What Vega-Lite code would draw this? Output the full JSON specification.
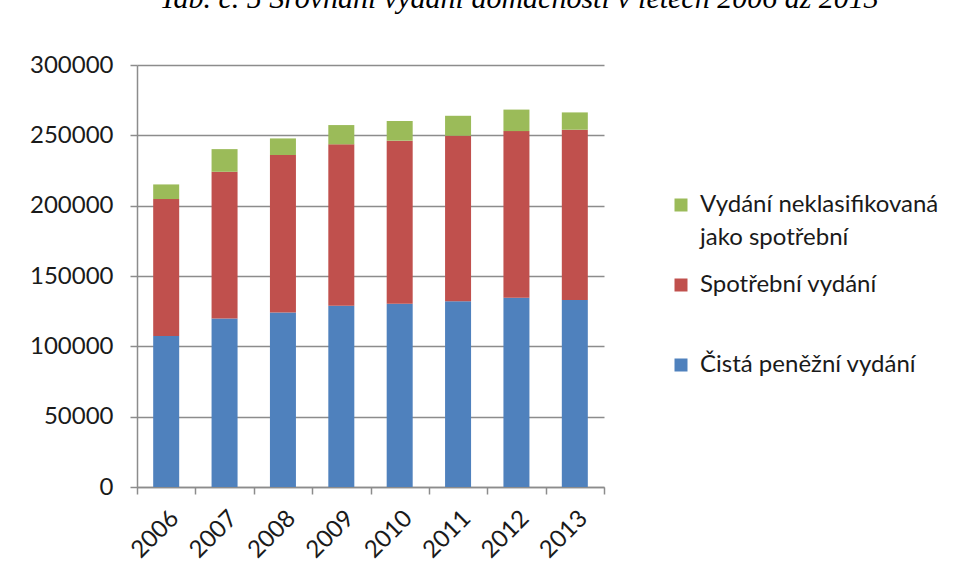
{
  "$schema": "https://vega.github.io/schema/vega-lite/v6.json",
  "width": 467,
  "height": 422,
  "autosize": {"type": "none"},
  "padding": {"left": 137, "top": 65, "right": 353, "bottom": 94},
  "background": "white",
  "title": {
    "text": "Tab. č.  5 Srovnání vydání domácností v letech 2006 až 2013",
    "font": "Liberation Serif",
    "fontStyle": "italic",
    "fontWeight": "normal",
    "fontSize": 30,
    "color": "#000000",
    "anchor": "start",
    "dx": 130,
    "offset": 39
  },
  "data": {
    "values": [
      {"rok": "2006", "typ": "Čistá peněžní vydání", "poradi": 1, "hodnota": 107400},
      {"rok": "2006", "typ": "Spotřební vydání", "poradi": 2, "hodnota": 97300},
      {"rok": "2006", "typ": "Vydání neklasifikovaná jako spotřební", "poradi": 3, "hodnota": 10400},
      {"rok": "2007", "typ": "Čistá peněžní vydání", "poradi": 1, "hodnota": 119800},
      {"rok": "2007", "typ": "Spotřební vydání", "poradi": 2, "hodnota": 104300},
      {"rok": "2007", "typ": "Vydání neklasifikovaná jako spotřební", "poradi": 3, "hodnota": 16100},
      {"rok": "2008", "typ": "Čistá peněžní vydání", "poradi": 1, "hodnota": 124100},
      {"rok": "2008", "typ": "Spotřební vydání", "poradi": 2, "hodnota": 111900},
      {"rok": "2008", "typ": "Vydání neklasifikovaná jako spotřební", "poradi": 3, "hodnota": 11800},
      {"rok": "2009", "typ": "Čistá peněžní vydání", "poradi": 1, "hodnota": 128800},
      {"rok": "2009", "typ": "Spotřební vydání", "poradi": 2, "hodnota": 114800},
      {"rok": "2009", "typ": "Vydání neklasifikovaná jako spotřební", "poradi": 3, "hodnota": 13700},
      {"rok": "2010", "typ": "Čistá peněžní vydání", "poradi": 1, "hodnota": 130200},
      {"rok": "2010", "typ": "Spotřební vydání", "poradi": 2, "hodnota": 116000},
      {"rok": "2010", "typ": "Vydání neklasifikovaná jako spotřební", "poradi": 3, "hodnota": 14000},
      {"rok": "2011", "typ": "Čistá peněžní vydání", "poradi": 1, "hodnota": 132100},
      {"rok": "2011", "typ": "Spotřební vydání", "poradi": 2, "hodnota": 117600},
      {"rok": "2011", "typ": "Vydání neklasifikovaná jako spotřební", "poradi": 3, "hodnota": 14200},
      {"rok": "2012", "typ": "Čistá peněžní vydání", "poradi": 1, "hodnota": 134500},
      {"rok": "2012", "typ": "Spotřební vydání", "poradi": 2, "hodnota": 118500},
      {"rok": "2012", "typ": "Vydání neklasifikovaná jako spotřební", "poradi": 3, "hodnota": 15300},
      {"rok": "2013", "typ": "Čistá peněžní vydání", "poradi": 1, "hodnota": 133000},
      {"rok": "2013", "typ": "Spotřební vydání", "poradi": 2, "hodnota": 121000},
      {"rok": "2013", "typ": "Vydání neklasifikovaná jako spotřební", "poradi": 3, "hodnota": 12300}
    ]
  },
  "mark": {"type": "bar", "width": 26},
  "encoding": {
    "x": {
      "field": "rok",
      "type": "ordinal",
      "scale": {"paddingInner": 0, "paddingOuter": 0},
      "axis": {
        "title": null,
        "labelAngle": -45,
        "labelFont": "Lato",
        "labelFontSize": 24,
        "labelColor": "#1a1a1a",
        "labelPadding": 12,
        "domainColor": "#8c8c8c",
        "domainWidth": 1.5,
        "tickColor": "#8c8c8c",
        "tickWidth": 1.5,
        "tickSize": 7,
        "tickBand": "extent"
      }
    },
    "y": {
      "field": "hodnota",
      "type": "quantitative",
      "stack": "zero",
      "scale": {"domain": [0, 300000], "nice": false},
      "axis": {
        "title": null,
        "values": [0, 50000, 100000, 150000, 200000, 250000, 300000],
        "format": "d",
        "labelFont": "Lato",
        "labelFontSize": 24,
        "labelColor": "#1a1a1a",
        "labelPadding": 17,
        "domainColor": "#8c8c8c",
        "domainWidth": 1.5,
        "tickColor": "#8c8c8c",
        "tickWidth": 1.5,
        "tickSize": 7,
        "grid": true,
        "gridColor": "#8c8c8c",
        "gridWidth": 1.5
      }
    },
    "color": {
      "field": "typ",
      "type": "nominal",
      "scale": {
        "domain": ["Vydání neklasifikovaná jako spotřební", "Spotřební vydání", "Čistá peněžní vydání"],
        "range": ["#9BBB59", "#C0504D", "#4F81BD"]
      },
      "legend": {
        "title": null,
        "orient": "none",
        "legendX": 532,
        "legendY": 128,
        "symbolType": "square",
        "symbolSize": 169,
        "symbolStrokeWidth": 0,
        "labelFont": "Lato",
        "labelFontSize": 24,
        "labelColor": "#1a1a1a",
        "labelLimit": 400,
        "labelOffset": 7,
        "rowPadding": 23,
        "labelExpr": "datum.label == 'Vydání neklasifikovaná jako spotřební' ? ['Vydání neklasifikovaná', 'jako spotřební'] : [datum.label, '']",
        "encode": {
          "labels": {"update": {"lineHeight": {"value": 33}}}
        }
      }
    },
    "order": {"field": "poradi", "type": "quantitative", "sort": "ascending"}
  },
  "config": {
    "view": {"stroke": null}
  }
}
